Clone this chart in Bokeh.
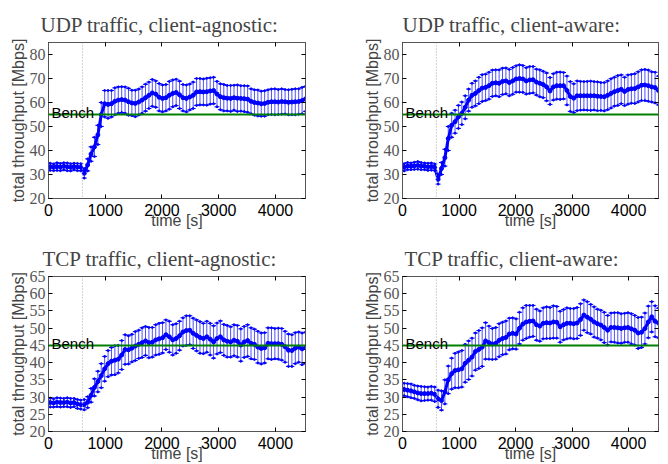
from bokeh.plotting import figure
from bokeh.layouts import gridplot
from bokeh.models import (Range1d, LinearAxis, Span, Label, FixedTicker,
                          ColumnDataSource, Whisker, TeeHead, CustomJSTickFormatter)
from bokeh.embed import file_html
from bokeh.resources import INLINE

# ---------------- data ----------------
t = [30, 90, 150, 210, 270, 330, 390, 450, 510, 570, 630, 690, 750, 810, 870, 930,
     990, 1050, 1110, 1170, 1230, 1290, 1350, 1410, 1470, 1530, 1590, 1650, 1710,
     1770, 1830, 1890, 1950, 2010, 2070, 2130, 2190, 2250, 2310, 2370, 2430, 2490,
     2550, 2610, 2670, 2730, 2790, 2850, 2910, 2970, 3030, 3090, 3150, 3210, 3270,
     3330, 3390, 3450, 3510, 3570, 3630, 3690, 3750, 3810, 3870, 3930, 3990, 4050,
     4110, 4170, 4230, 4290, 4350, 4410, 4470, 4530]

udp_agn_mean = [33.2, 33.0, 33.3, 33.1, 33.4, 33.2, 33.0, 33.3, 33.1, 33.0,
                30.5, 34.0, 38.5, 41.5, 46.5, 55.0, 59.5, 59.2, 59.5, 60.5,
                61.0, 61.2, 61.0, 60.3, 59.8, 59.6, 60.2, 61.0, 62.0, 63.0,
                64.0, 63.5, 62.2, 61.7, 62.0, 63.0, 63.8, 64.2, 63.2, 62.0,
                61.7, 62.3, 63.0, 64.4, 64.5, 64.4, 64.5, 64.8, 65.0, 63.5,
                62.4, 62.0, 61.8, 61.7, 62.0, 61.8, 61.7, 61.6, 61.4, 60.5,
                60.0, 59.8, 59.5, 59.6, 60.1, 60.3, 60.3, 60.2, 60.4, 60.3,
                60.1, 60.2, 60.3, 60.4, 60.8, 61.5]
udp_agn_err = [1.5, 1.4, 1.6, 1.5, 1.5, 1.6, 1.5, 1.4, 1.5, 1.5,
               2.0, 2.5, 3.0, 4.0, 4.0, 5.0, 5.5, 5.8, 5.5, 5.6,
               5.5, 5.4, 5.5, 5.6, 5.3, 5.5, 5.4, 5.5, 5.6, 5.5,
               5.6, 5.5, 5.7, 5.6, 5.5, 5.8, 5.6, 5.5, 5.7, 5.5,
               5.6, 5.4, 5.5, 5.6, 5.5, 5.4, 5.6, 5.5, 5.5, 5.3,
               5.4, 5.5, 5.3, 5.4, 5.2, 5.5, 5.3, 5.4, 5.5, 5.2,
               5.3, 5.4, 5.2, 5.3, 5.2, 5.3, 5.4, 5.2, 5.3, 5.1,
               5.2, 5.3, 5.4, 5.3, 5.5, 5.2]

udp_awr_mean = [33.0, 33.5, 33.4, 33.6, 33.8, 33.5, 33.4, 33.2, 33.3, 33.0,
                28.0, 32.5, 37.0, 45.0, 50.5, 52.0, 54.0, 55.5, 58.0, 61.0,
                63.0, 63.8, 65.0, 66.0, 66.3, 67.0, 68.0, 68.2, 68.0, 68.8,
                69.0, 68.3, 69.0, 69.8, 70.0, 69.8, 69.0, 69.4, 69.5, 68.5,
                68.0, 67.5, 66.5, 64.8, 66.5, 67.0, 67.0, 67.0, 65.0, 62.5,
                61.8, 62.8, 62.8, 62.8, 62.8, 62.8, 62.8, 62.6, 62.5, 62.4,
                63.0, 63.8, 64.5, 65.0, 65.5, 64.6, 65.4, 65.7, 65.8, 66.5,
                67.2, 67.3, 67.0, 66.5, 66.2, 65.0]
udp_awr_err = [1.5, 1.5, 1.4, 1.5, 1.6, 1.5, 1.4, 1.5, 1.5, 1.4,
               2.0, 2.5, 3.5, 5.0, 5.0, 4.8, 4.8, 4.7, 4.8, 4.6,
               5.0, 5.2, 5.5, 5.6, 5.5, 5.6, 5.5, 5.4, 5.6, 5.5,
               5.4, 5.5, 5.6, 5.5, 5.7, 5.6, 5.5, 5.6, 5.5, 5.4,
               5.6, 5.5, 5.8, 5.6, 5.5, 5.6, 5.7, 5.5, 6.0, 6.2,
               6.0, 6.2, 6.0, 5.9, 6.0, 6.1, 5.9, 6.0, 5.8, 5.9,
               6.0, 6.1, 6.0, 6.2, 6.0, 5.9, 6.1, 6.0, 6.2, 6.3,
               6.4, 6.5, 6.5, 6.3, 6.4, 6.0]

tcp_agn_mean = [28.4, 28.3, 28.5, 28.4, 28.4, 28.5, 28.3, 28.4, 28.0, 27.8,
                27.8, 28.5, 30.5, 32.8, 34.5, 36.2, 38.2, 39.7, 40.4, 40.7,
                41.0, 42.2, 43.8, 43.7, 44.2, 44.8, 45.3, 45.8, 46.3, 45.8,
                45.9, 46.6, 46.9, 47.2, 48.1, 47.5, 46.6, 47.0, 47.8, 48.9,
                49.3, 49.4, 48.5, 47.9, 47.3, 47.0, 47.5, 46.8, 46.0, 47.0,
                47.5, 46.6, 46.2, 46.0, 46.5, 46.2, 45.1, 46.0, 46.4, 45.6,
                45.3, 44.5, 44.1, 44.3, 45.6, 45.5, 45.5, 45.5, 45.3, 44.6,
                43.6, 43.5, 44.2, 44.5, 44.0, 44.3]
tcp_agn_err = [1.3, 1.2, 1.3, 1.3, 1.2, 1.3, 1.3, 1.2, 1.3, 1.3,
               1.5, 1.6, 2.0, 2.5, 3.0, 3.5, 3.6, 3.8, 4.0, 4.2,
               4.0, 4.2, 4.3, 4.1, 4.0, 4.2, 4.1, 4.3, 4.2, 4.4,
               4.3, 4.4, 4.5, 4.4, 4.3, 4.5, 4.4, 4.3, 4.2, 4.1,
               4.3, 4.2, 4.4, 4.5, 4.6, 4.4, 4.5, 4.6, 4.7, 4.5,
               4.6, 4.5, 4.6, 4.4, 4.5, 4.6, 4.7, 4.5, 4.6, 4.5,
               4.4, 4.6, 4.5, 4.4, 4.5, 4.6, 4.4, 4.5, 4.6, 4.5,
               4.7, 4.6, 4.5, 4.4, 4.6, 4.5]

tcp_awr_mean = [32.2, 32.0, 31.8, 31.5, 31.2, 31.0, 31.0, 31.0, 31.1, 30.8,
                29.5, 29.0, 31.5, 35.0, 36.8, 37.7, 37.9, 38.2, 39.8, 40.7,
                41.6, 43.2, 43.8, 44.5, 46.3, 45.8, 45.4, 45.6, 46.5, 47.0,
                47.3, 48.3, 48.5, 48.3, 50.0, 51.2, 51.8, 52.0, 52.1, 51.0,
                50.6, 51.4, 51.6, 51.5, 51.8, 51.7, 50.4, 51.0, 51.4, 51.4,
                51.3, 51.5, 52.5, 53.8, 53.2, 52.6, 51.8, 51.3, 50.9, 50.2,
                49.4, 50.2, 50.2, 50.1, 49.9, 50.1, 50.2, 49.8, 49.4, 48.6,
                48.8, 49.9, 51.8, 53.3, 52.0, 51.5]
tcp_awr_err = [1.8, 1.9, 2.0, 1.9, 2.0, 2.1, 2.0, 1.9, 2.0, 2.1,
               2.5, 2.8, 3.5, 4.0, 4.5, 5.0, 5.2, 5.3, 5.5, 5.6,
               5.5, 5.4, 5.5, 5.6, 5.3, 4.8, 4.5, 4.6, 4.8, 4.7,
               4.8, 4.6, 4.5, 4.4, 4.6, 4.7, 4.8, 4.6, 4.5, 4.5,
               4.4, 4.5, 4.6, 4.5, 4.7, 4.6, 4.5, 4.4, 4.5, 4.3,
               4.4, 4.5, 4.6, 4.4, 4.5, 4.3, 4.4, 4.2, 4.3, 4.4,
               4.3, 4.2, 4.3, 4.4, 4.3, 4.2, 4.3, 4.4, 4.3, 4.5,
               4.4, 4.5, 4.6, 4.4, 4.5, 4.3]

titles = ["UDP traffic, client-agnostic:", "UDP traffic, client-aware:",
          "TCP traffic, client-agnostic:", "TCP traffic, client-aware:"]
x_ticks = [0, 1000, 2000, 3000, 4000]
udp_ticks = [20, 30, 40, 50, 60, 70, 80]
tcp_ticks = [20, 25, 30, 35, 40, 45, 50, 55, 60, 65]
udp_bench = 55
tcp_bench = 45
switch_time = 600

BLUE = "#0000ff"
AX = "#555555"


def make(title, mean, err, yr, yticks, bench, w, h, bl, br, bt, bb, toff):
    p = figure(width=w, height=h, output_backend="svg", toolbar_location=None,
               x_range=Range1d(0, 4530), y_range=Range1d(*yr),
               min_border_left=bl, min_border_right=br,
               min_border_top=bt, min_border_bottom=bb,
               background_fill_color="white", border_fill_color="white")
    p.title.text = title
    p.title.text_font = "Liberation Serif"
    p.title.text_font_size = "21px"
    p.title.text_font_style = "normal"
    p.title.align = "left"
    p.title.offset = toff
    p.title.standoff = 12
    p.grid.visible = False
    p.outline_line_color = AX

    xa = p.xaxis[0]
    xa.ticker = FixedTicker(ticks=x_ticks)
    xa.major_label_text_font = "Liberation Sans"
    xa.major_label_text_font_size = "16px"
    xa.major_label_text_color = "black"
    xa.major_label_standoff = 5
    xa.axis_label = "time [s]"
    xa.axis_label_text_font = "Liberation Sans"
    xa.axis_label_text_font_size = "16px"
    xa.axis_label_text_font_style = "normal"
    xa.axis_label_standoff = -7

    ya = p.yaxis[0]
    ya.ticker = FixedTicker(ticks=yticks)
    ya.major_label_text_font = "Liberation Serif"
    ya.major_label_text_font_size = "16px"
    ya.major_label_text_color = "#555555"
    ya.major_label_standoff = 3
    ya.axis_label = "total throughput [Mbps]"
    ya.axis_label_text_font = "Liberation Sans"
    ya.axis_label_text_font_size = "16px"
    ya.axis_label_text_font_style = "normal"
    ya.axis_label_standoff = 0

    for a in (xa, ya):
        a.major_tick_in = 4
        a.major_tick_out = 0
        a.minor_tick_in = 0
        a.minor_tick_out = 0
        a.axis_line_color = AX
        a.major_tick_line_color = "black"

    blank = CustomJSTickFormatter(code="return ''")
    for loc, ticks in (("right", yticks), ("above", x_ticks)):
        ax = LinearAxis(ticker=FixedTicker(ticks=ticks), formatter=blank,
                        major_label_standoff=0,
                        major_tick_in=4, major_tick_out=0,
                        minor_tick_in=0, minor_tick_out=0,
                        axis_line_color=AX, major_tick_line_color="black")
        p.add_layout(ax, loc)

    lo = [m - e for m, e in zip(mean, err)]
    hi = [m + e for m, e in zip(mean, err)]
    src = ColumnDataSource(dict(t=t, m=mean, lo=lo, hi=hi))

    p.add_layout(Span(location=switch_time, dimension="height",
                      line_color="#aaaaaa", line_dash="1 2", line_width=1))
    p.add_layout(Span(location=bench, dimension="width",
                      line_color="#008000", line_width=2))
    p.add_layout(Label(x=0, y=bench, x_offset=3, y_offset=2, text="Bench",
                       text_font="Liberation Sans", text_font_size="15px",
                       text_baseline="alphabetic", text_color="black"))

    wk = Whisker(base="t", lower="lo", upper="hi", source=src,
                 line_color="#5050ff", line_width=1,
                 upper_head=TeeHead(size=5, line_color=BLUE, line_width=1),
                 lower_head=TeeHead(size=5, line_color=BLUE, line_width=1))
    p.add_layout(wk)
    p.scatter("t", "lo", source=src, size=2, color=BLUE)
    p.scatter("t", "hi", source=src, size=2, color=BLUE)
    p.line("t", "m", source=src, line_color=BLUE, line_width=3)
    p.scatter("t", "m", source=src, size=4, color=BLUE)
    return p


p1 = make(titles[0], udp_agn_mean, udp_agn_err, (20, 85), udp_ticks, udp_bench,
          334, 232, 48, 29, 42, 34, -8)
p2 = make(titles[1], udp_awr_mean, udp_awr_err, (20, 85), udp_ticks, udp_bench,
          334, 232, 68, 10, 42, 34, 0)
p3 = make(titles[2], tcp_agn_mean, tcp_agn_err, (20, 65), tcp_ticks, tcp_bench,
          334, 232, 48, 29, 44, 32, -6)
p4 = make(titles[3], tcp_awr_mean, tcp_awr_err, (20, 65), tcp_ticks, tcp_bench,
          334, 232, 68, 10, 44, 32, 2)

grid = gridplot([[p1, p2], [p3, p4]], toolbar_location=None)
open("out.html", "w").write(file_html(grid, INLINE))
